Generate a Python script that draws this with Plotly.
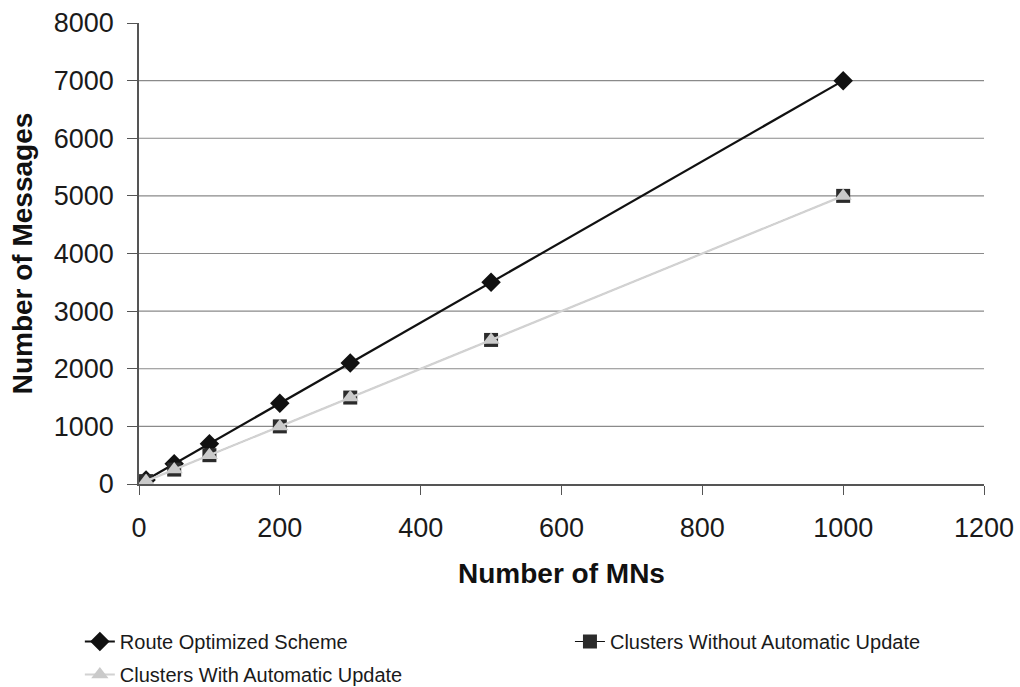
import plotly.graph_objects as go

# Number of mobile nodes
mns = [10, 50, 100, 200, 300, 500, 1000]

# Number of messages per scheme
route_optimized = [70, 350, 700, 1400, 2100, 3500, 7000]
clusters_without_update = [50, 250, 500, 1000, 1500, 2500, 5000]
clusters_with_update = [50, 250, 500, 1000, 1500, 2500, 5000]

x_ticks = [0, 200, 400, 600, 800, 1000, 1200]
y_ticks = [0, 1000, 2000, 3000, 4000, 5000, 6000, 7000, 8000]
grid_values = [1000, 2000, 3000, 4000, 5000, 6000, 7000]

FONT = "Liberation Sans, Arial, Helvetica, sans-serif"

fig = go.Figure()

fig.add_trace(go.Scatter(
    x=mns, y=route_optimized, name="Route Optimized Scheme",
    mode="lines+markers",
    line=dict(color="#111111", width=2.2),
    marker=dict(symbol="diamond", size=15, color="#111111"),
    legend="legend", legendgroup="a",
))
fig.add_trace(go.Scatter(
    x=mns, y=clusters_without_update, name="Clusters Without Automatic Update",
    mode="lines+markers",
    line=dict(color="#111111", width=1),
    marker=dict(symbol="square", size=14, color="#2b2b2b"),
    legend="legend2", legendgroup="b",
))
fig.add_trace(go.Scatter(
    x=mns, y=clusters_with_update, name="Clusters With Automatic Update",
    mode="lines+markers",
    line=dict(color="#d2d2d2", width=2.2),
    marker=dict(symbol="triangle-up", size=15, color="#cacaca"),
    legend="legend", legendgroup="c",
))

# horizontal gridlines (none along the top edge)
for gv in grid_values:
    fig.add_shape(
        type="line", xref="paper", yref="y", x0=0, x1=1, y0=gv, y1=gv,
        line=dict(color="#8a8a8a", width=1.2), layer="below",
    )

axis_font = dict(family=FONT, size=27, color="#1a1a1a")
title_font = dict(family=FONT, size=28, color="#111111")
legend_font = dict(family=FONT, size=20, color="#1a1a1a")

legend_top = (687 - 622) / 687

fig.update_layout(
    width=1020, height=687,
    margin=dict(l=139, r=36, t=23, b=203),
    paper_bgcolor="white", plot_bgcolor="white",
    showlegend=True,
    legend=dict(
        orientation="v", xref="paper", yref="container",
        x=-0.070, y=legend_top, xanchor="left", yanchor="top",
        font=legend_font, tracegroupgap=4, traceorder="grouped",
        bgcolor="rgba(0,0,0,0)",
    ),
    legend2=dict(
        orientation="v", xref="paper", yref="container",
        x=0.510, y=legend_top, xanchor="left", yanchor="top",
        font=legend_font, bgcolor="rgba(0,0,0,0)",
    ),
    xaxis=dict(
        range=[0, 1200], tickvals=x_ticks, showgrid=False, zeroline=False,
        showline=True, linecolor="#555555", linewidth=1.5,
        ticks="outside", ticklen=9, tickcolor="#555555", tickwidth=1.2,
        tickfont=axis_font, ticklabelstandoff=10, automargin=False,
        title=dict(text="<b>Number of MNs</b>", font=title_font, standoff=21),
    ),
    yaxis=dict(
        range=[0, 8000], tickvals=y_ticks, showgrid=False, zeroline=False,
        showline=True, linecolor="#555555", linewidth=1.5,
        ticks="outside", ticklen=10, tickcolor="#555555", tickwidth=1.2,
        tickfont=axis_font, ticklabelstandoff=8, automargin=False,
        title=dict(text="<b>Number of Messages</b>", font=title_font, standoff=13),
    ),
)

fig.write_html("out.html")
